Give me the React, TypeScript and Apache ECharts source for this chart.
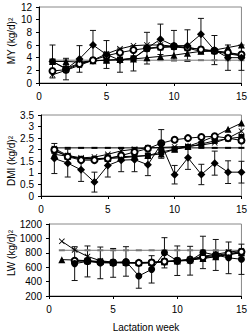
import React, { useEffect, useRef } from "react";
import * as echarts from "echarts";

// Lactation weeks shared by all three panels
const weeks = [1, 2, 3, 4, 5, 6, 7, 8, 9, 10, 11, 12, 13, 14, 15];

// Milk yield (MY)
const myObs = [3.4, 2.2, 3.8, 6.0, 4.5, 3.6, 3.9, 5.5, 6.9, 5.9, 5.9, 7.7, 5.2, 4.0, 4.0];
const myObsSd = [2.6, 1.7, 2.1, 2.3, 2.2, 1.9, 2.0, 2.5, 2.4, 2.4, 2.5, 2.5, 2.3, 2.0, 2.0];
const myTri = [3.4, 3.4, 3.3, 3.5, 3.6, 3.7, 3.8, 4.0, 4.2, 4.4, 4.7, 5.0, 5.2, 5.6, 6.0];
const mySq = [3.4, 2.3, 3.1, 3.5, 3.6, 3.7, 3.9, 5.4, 5.6, 5.7, 5.5, 5.0, 5.0, 4.8, 4.3];
const myCross = [1.3, 2.0, 2.8, 3.6, 4.6, 5.4, 5.9, 6.0, 6.0, 5.8, 5.6, 5.3, 5.0, 4.6, 4.3];
const myCircle = [1.9, 2.1, 3.0, 3.6, 4.3, 4.8, 5.2, 5.5, 5.7, 5.8, 5.6, 5.3, 5.1, 4.8, 4.5];
const myFlat = [3.6, 3.6, 3.6, 3.6, 3.6, 3.6, 3.6, 3.6, 3.6, 3.6, 3.6, 3.6, 3.6, 3.6, 3.6];

// Dry matter intake (DMI)
const dmiObs = [1.62, 1.42, 1.13, 0.6, 1.32, 1.55, 1.57, 1.35, 2.25, 0.92, 1.65, 0.93, 1.42, 1.03, 1.03];
const dmiObsSd = [0.65, 0.6, 0.5, 0.43, 0.5, 0.5, 0.52, 0.47, 0.62, 0.4, 0.5, 0.44, 0.52, 0.49, 0.47];
const dmiTri = [1.8, 1.72, 1.62, 1.62, 1.62, 1.65, 1.7, 1.75, 1.82, 2.02, 2.15, 2.35, 2.58, 2.88, 3.15];
const dmiSq = [1.95, 1.72, 1.6, 1.6, 1.65, 1.7, 1.72, 1.75, 1.9, 2.02, 2.12, 2.25, 2.38, 2.48, 2.55];
const dmiCross = [2.05, 1.75, 1.65, 1.68, 1.8, 1.95, 2.02, 2.08, 2.1, 2.12, 2.15, 2.2, 2.3, 2.5, 2.8];
const dmiCircle = [2.0, 1.7, 1.55, 1.55, 1.62, 1.75, 1.9, 2.05, 2.28, 2.43, 2.5, 2.55, 2.58, 2.5, 2.4];
const dmiFlat = [2.08, 2.08, 2.08, 2.08, 2.08, 2.08, 2.08, 2.08, 2.08, 2.08, 2.08, 2.08, 2.08, 2.08, 2.08];

// Live weight (LW)
const lwObs = [null, 650, 680, 660, 660, 680, 478, 570, 800, 690, 690, 805, 770, 730, 710];
const lwObsSd = [null, 235, 215, 220, 200, 205, 170, 190, 210, 205, 200, 225, 215, 220, 210];
const lwTri = [705, 700, 690, 680, 670, 665, 665, 670, 675, 685, 700, 720, 745, 775, 800];
const lwSq = [null, 680, 690, 670, 660, 660, 655, 660, 680, 690, 700, 730, 750, 780, 800];
const lwCross = [960, 840, 750, 690, 670, 660, 660, 665, 675, 690, 710, 750, 780, 810, 830];
const lwCircle = [null, 690, 685, 670, 665, 665, 660, 665, 680, 690, 705, 740, 765, 790, 815];
const lwFlat = [835, 835, 835, 835, 835, 835, 835, 835, 835, 835, 835, 835, 835, 835, 835];

const FONT = "'Liberation Sans', Arial, sans-serif";
const CROSS = "path://M0,1L1,0L5,4L9,0L10,1L6,5L10,9L9,10L5,6L1,10L0,9L4,5Z";

const pairs = (arr: (number | null)[]) => arr.map((v, i) => [weeks[i], v == null ? "-" : v]);

const errData = (obs: (number | null)[], sd: (number | null)[]) =>
  obs
    .map((v, i) => (v == null || sd[i] == null ? null : [weeks[i], v - (sd[i] as number), v + (sd[i] as number)]))
    .filter((d) => d !== null);

function errorBars(gi: number, data: any[]) {
  return {
    type: "custom",
    xAxisIndex: gi,
    yAxisIndex: gi,
    z: 2,
    silent: true,
    encode: { x: 0, y: [1, 2] },
    data,
    renderItem: (params: any, api: any) => {
      const x = api.value(0);
      const lo = api.coord([x, api.value(1)]);
      const hi = api.coord([x, api.value(2)]);
      const w = 3;
      const st = { stroke: "#111", lineWidth: 1 };
      return {
        type: "group",
        children: [
          { type: "line", shape: { x1: lo[0], y1: lo[1], x2: hi[0], y2: hi[1] }, style: st },
          { type: "line", shape: { x1: lo[0] - w, y1: lo[1], x2: lo[0] + w, y2: lo[1] }, style: st },
          { type: "line", shape: { x1: hi[0] - w, y1: hi[1], x2: hi[0] + w, y2: hi[1] }, style: st },
        ],
      };
    },
  };
}

function line(gi: number, data: (number | null)[], symbol: string, size: any, color = "#000", z = 3) {
  return {
    type: "line",
    xAxisIndex: gi,
    yAxisIndex: gi,
    data: pairs(data),
    symbol,
    symbolSize: size,
    lineStyle: { color, width: 1 },
    itemStyle: symbol === "emptyCircle" ? { color, borderWidth: 1 } : { color },
    z,
    silent: true,
  };
}

function panelSeries(
  gi: number,
  obs: (number | null)[],
  sd: (number | null)[],
  tri: (number | null)[],
  sq: (number | null)[],
  cross: (number | null)[],
  circle: (number | null)[],
  flat: number[],
  flatColor: string,
  obsSymbol: string
) {
  return [
    errorBars(gi, errData(obs, sd)),
    line(gi, flat, "rect", [6, 2], flatColor, 2),
    line(gi, tri, "triangle", 7),
    line(gi, sq, "rect", 6),
    line(gi, cross, CROSS, 6),
    line(gi, circle, "emptyCircle", 6),
    line(gi, obs, obsSymbol, obsSymbol === "circle" ? 7 : 8, "#000", 4),
  ];
}

const grids = [
  { left: 39, top: 7, width: 206, height: 76 },
  { left: 41, top: 115, width: 204, height: 81 },
  { left: 49, top: 224, width: 196, height: 72 },
];

const yRanges = [
  { min: 0, max: 12, interval: 2 },
  { min: 0, max: 3.5, interval: 0.5 },
  { min: 200, max: 1200, interval: 200 },
];

const yNames = ["MY (kg/d)²", "DMI (kg/d)²", "LW (kg/d)²"];
const yNameCenters = [41, 161, 253];

export default function App() {
  const ref = useRef<HTMLDivElement>(null);

  useEffect(() => {
    if (!ref.current) return;
    const chart = echarts.init(ref.current, undefined, { renderer: "svg" });

    const axisText = { color: "#000", fontSize: 10, fontFamily: FONT };

    chart.setOption({
      animation: false,
      backgroundColor: "#fff",
      grid: grids.map((g) => ({
        ...g,
        show: true,
        borderColor: "#888",
        borderWidth: 1,
        backgroundColor: "transparent",
      })),
      xAxis: grids.map((_, i) => ({
        type: "value",
        gridIndex: i,
        min: 0,
        max: 15,
        interval: 5,
        axisLine: { show: true, onZero: false, lineStyle: { color: "#000", width: 1 } },
        axisTick: { show: true, length: 3, lineStyle: { color: "#000" } },
        axisLabel: { ...axisText, margin: 8 },
        splitLine: { show: false },
      })),
      yAxis: grids.map((_, i) => ({
        type: "value",
        gridIndex: i,
        ...yRanges[i],
        axisLine: { show: true, onZero: false, lineStyle: { color: "#000", width: 1 } },
        axisTick: { show: true, length: 3, lineStyle: { color: "#000" } },
        axisLabel: { ...axisText, margin: 7, formatter: (v: number) => String(v) },
        splitLine: { show: false },
      })),
      graphic: [
        ...yNames.map((t, i) => ({
          type: "text",
          x: 11,
          y: yNameCenters[i],
          rotation: Math.PI / 2,
          style: {
            text: t,
            fill: "#000",
            font: `10px ${FONT}`,
            textAlign: "center",
            textVerticalAlign: "middle",
          },
        })),
        {
          type: "text",
          x: 146,
          y: 327,
          style: {
            text: "Lactation week",
            fill: "#000",
            font: `10px ${FONT}`,
            textAlign: "center",
            textVerticalAlign: "middle",
          },
        },
      ],
      series: [
        ...panelSeries(0, myObs, myObsSd, myTri, mySq, myCross, myCircle, myFlat, "#777", "diamond"),
        ...panelSeries(1, dmiObs, dmiObsSd, dmiTri, dmiSq, dmiCross, dmiCircle, dmiFlat, "#000", "diamond"),
        ...panelSeries(2, lwObs, lwObsSd, lwTri, lwSq, lwCross, lwCircle, lwFlat, "#777", "circle"),
      ],
    });

    return () => chart.dispose();
  }, []);

  return (
    <div
      ref={ref}
      style={{ position: "absolute", left: 0, top: 0, width: 250, height: 333, background: "#fff" }}
    />
  );
}
